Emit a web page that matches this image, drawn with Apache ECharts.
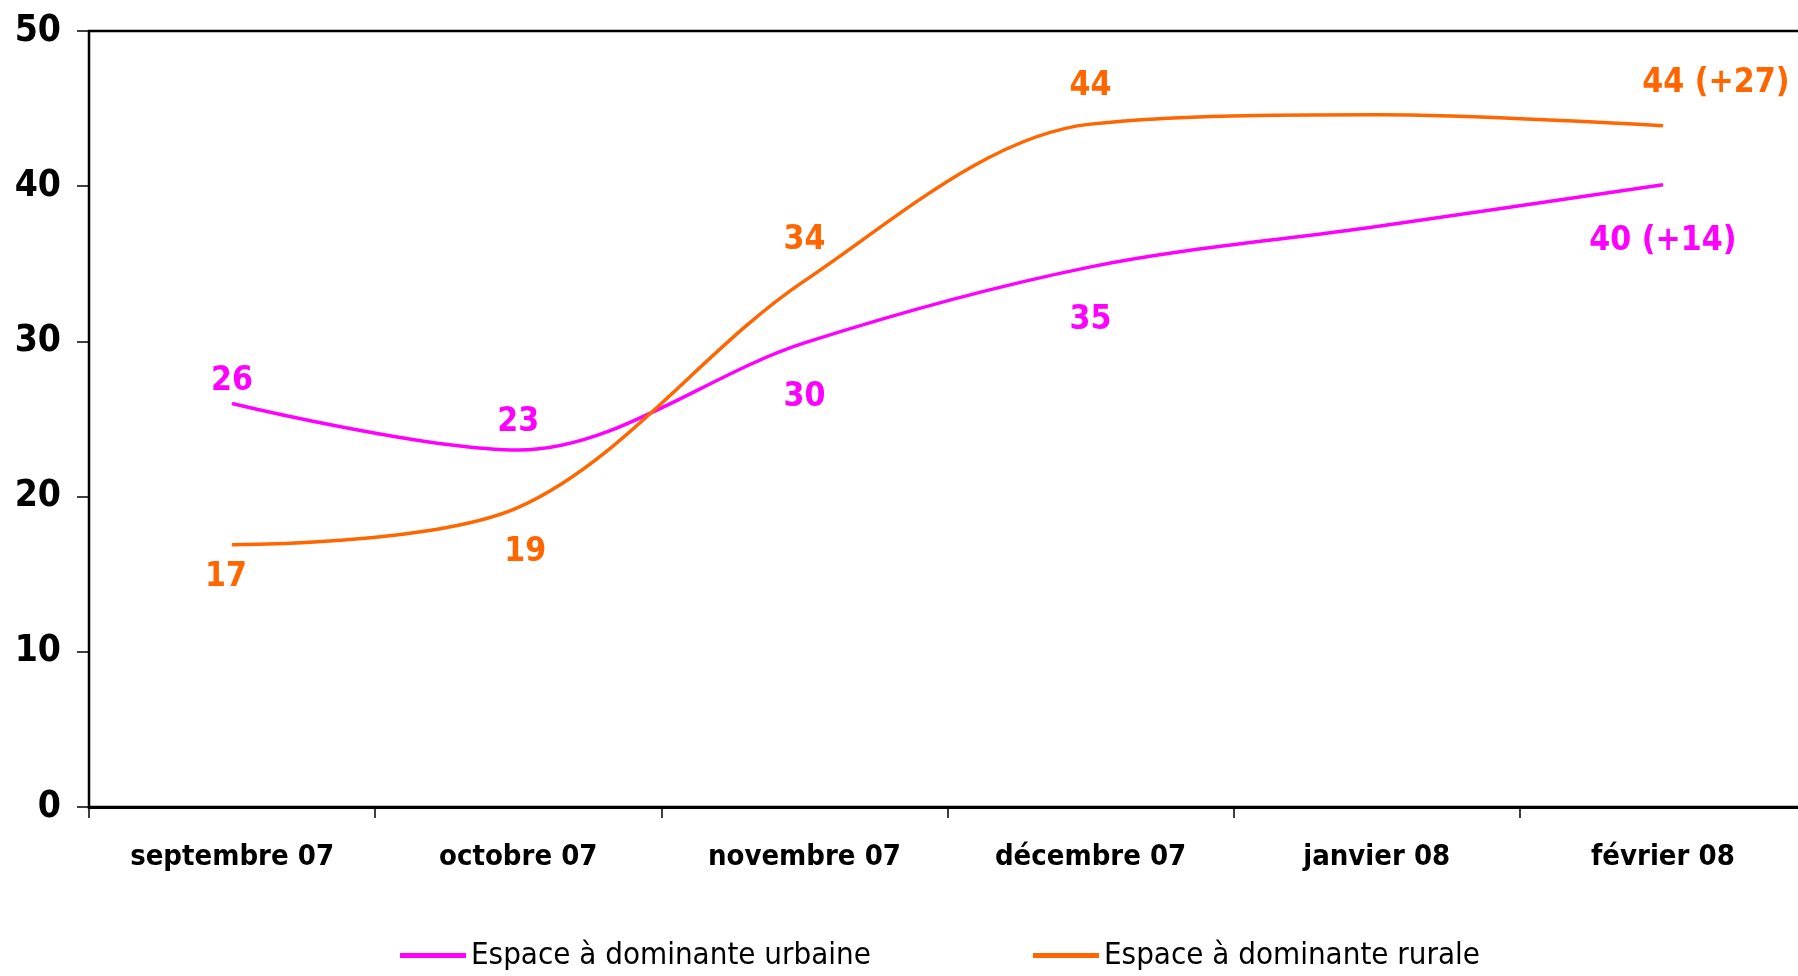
<!DOCTYPE html>
<html>
<head>
<meta charset="utf-8">
<script src="https://cdn.jsdelivr.net/npm/echarts@6/dist/echarts.min.js"></script>
<style>
html,body{margin:0;padding:0;background:#fff;}
#chart{width:1798px;height:976px;}
</style>
</head>
<body>
<div id="chart"></div>
<script>
const categories = ['septembre 07', 'octobre 07', 'novembre 07', 'décembre 07', 'janvier 08', 'février 08'];
const seriesNames = ['Espace à dominante urbaine', 'Espace à dominante rurale'];
const urbaineValues = [26, 23, 29.9, 34.8, 37.4, 40.1];
const ruraleValues = [16.9, 19.3, 33.9, 44.0, 44.6, 43.9];
const urbaineLabels = ['26', '23', '30', '35', '', '40 (+14)'];
const ruraleLabels = ['17', '19', '34', '44', '', '44 (+27)'];
const yTicks = [0, 10, 20, 30, 40, 50];

const FONT = '"DejaVu Sans Condensed", "DejaVu Sans", sans-serif';
const PINK = '#FF00FF';
const ORANGE = '#FF6600';

// label offsets (px) relative to each point: [dx, dy]
const urbaineOffsets = [[0, -22], [0, -28], [0, 54], [0, 53], [0, 0], [0, 57]];
const ruraleOffsets = [[-6, 33], [7, 45], [0, -41], [0, -38], [0, 0], [53, -42]];

function buildData(values, labels, offsets, color) {
  return values.map((v, i) => ({
    value: v,
    label: {
      show: labels[i] !== '',
      formatter: labels[i],
      position: 'inside',
      offset: offsets[i],
      color: color,
      fontFamily: FONT,
      fontWeight: 'bold',
      fontSize: 33.5
    }
  }));
}

const legendCommon = {
  itemWidth: 66,
  itemHeight: 5,
  itemGap: 10,
  icon: 'rect',
  textStyle: {fontFamily: FONT, fontSize: 31, color: '#000', padding: [0, 0, 0, 0]}
};

const chart = echarts.init(document.getElementById('chart'), null, {renderer: 'canvas'});
chart.setOption({
  animation: false,
  backgroundColor: '#fff',
  grid: {
    left: 89, top: 31, bottom: 169, width: 1717,
    outerBoundsMode: 'none',
    show: true, borderColor: '#000', borderWidth: 2.5, containLabel: false
  },
  legend: [
    Object.assign({left: 395, top: 935, data: [seriesNames[0]]}, legendCommon),
    Object.assign({left: 1028, top: 935, data: [seriesNames[1]]}, legendCommon)
  ],
  xAxis: {
    type: 'category',
    data: categories,
    boundaryGap: true,
    axisLine: {lineStyle: {color: '#000', width: 3}},
    axisTick: {show: true, length: 11, lineStyle: {color: '#000', width: 1.5}},
    axisLabel: {margin: 36, color: '#000', fontFamily: FONT, fontWeight: 'bold', fontSize: 29},
    splitLine: {show: false}
  },
  yAxis: {
    type: 'value',
    min: yTicks[0],
    max: yTicks[yTicks.length - 1],
    interval: 10,
    axisLine: {show: true, lineStyle: {color: '#000', width: 2}},
    axisTick: {show: true, length: 12, lineStyle: {color: '#000', width: 1.5}},
    axisLabel: {margin: 28, color: '#000', fontFamily: FONT, fontWeight: 'bold', fontSize: 37},
    splitLine: {show: false}
  },
  series: [
    {
      name: seriesNames[0],
      type: 'line',
      smooth: 0.33,
      symbol: 'circle',
      symbolSize: 1,
      itemStyle: {color: PINK},
      lineStyle: {color: PINK, width: 3.5},
      data: buildData(urbaineValues, urbaineLabels, urbaineOffsets, PINK)
    },
    {
      name: seriesNames[1],
      type: 'line',
      smooth: 0.33,
      symbol: 'circle',
      symbolSize: 1,
      itemStyle: {color: ORANGE},
      lineStyle: {color: ORANGE, width: 3.5},
      data: buildData(ruraleValues, ruraleLabels, ruraleOffsets, ORANGE)
    }
  ]
});
</script>
</body>
</html>
